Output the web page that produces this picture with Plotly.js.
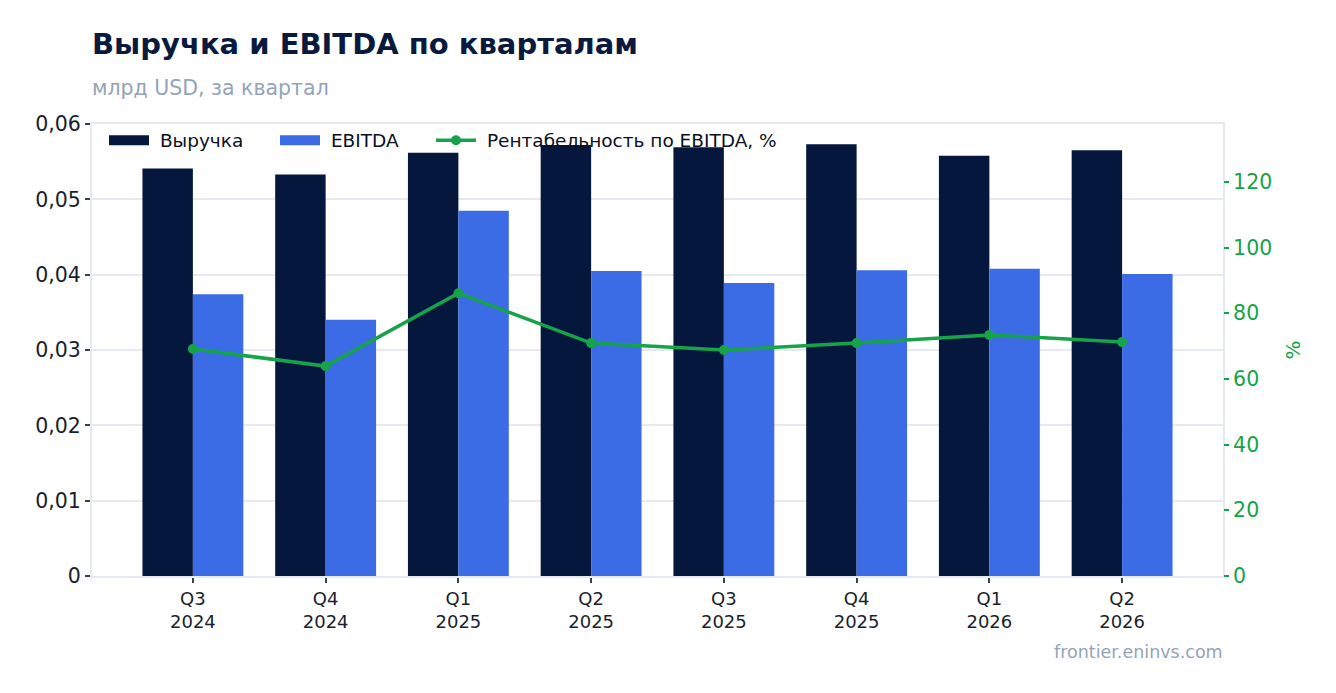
<!DOCTYPE html>
<html>
<head>
<meta charset="utf-8">
<script src="https://cdn.plot.ly/plotly-3.0.1.min.js"></script>
<style>
  html, body { margin: 0; padding: 0; background: #ffffff; }
  #chart { width: 1336px; height: 693px; }
</style>
</head>
<body>
<div id="chart"></div>
<script>
// кварталы
const quarters = ["Q3<br>2024", "Q4<br>2024", "Q1<br>2025", "Q2<br>2025",
                  "Q3<br>2025", "Q4<br>2025", "Q1<br>2026", "Q2<br>2026"];

// млрд USD
const revenue = [0.0541, 0.0533, 0.0562, 0.0572, 0.0569, 0.0573, 0.0558, 0.0565];
const ebitda  = [0.0374, 0.0340, 0.0485, 0.0405, 0.0389, 0.0406, 0.0408, 0.0401];

// рентабельность, %
const margin = [69.1, 63.9, 86.1, 70.9, 68.8, 70.9, 73.4, 71.2];

const navy = "#06173d";
const blue = "#3b6ce6";
const green = "#16a34a";
const gridc = "#e5e9f0";
const font = "DejaVu Sans, sans-serif";
const sp = "\u00a0";

const traces = [
  {
    type: "bar", name: "Выручка", x: quarters, y: revenue,
    marker: { color: navy }, hoverinfo: "skip", showlegend: false
  },
  {
    type: "bar", name: "EBITDA", x: quarters, y: ebitda,
    marker: { color: blue }, hoverinfo: "skip", showlegend: false
  },
  // только для легенды: широкие прямоугольники как в оригинале
  {
    type: "scatter", mode: "lines", name: sp + "Выручка", legendwidth: 116,
    x: [quarters[0]], y: [null], line: { color: navy, width: 13 }, hoverinfo: "skip"
  },
  {
    type: "scatter", mode: "lines", name: sp + "EBITDA", legendwidth: 101,
    x: [quarters[0]], y: [null], line: { color: blue, width: 13 }, hoverinfo: "skip"
  },
  {
    type: "scatter", mode: "lines+markers", name: sp + "Рентабельность по EBITDA, %",
    legendwidth: 320,
    x: quarters, y: margin, yaxis: "y2",
    line: { color: green, width: 3.5 },
    marker: { color: green, size: 10 }, hoverinfo: "skip"
  }
];

const layout = {
  width: 1336, height: 693,
  paper_bgcolor: "#ffffff", plot_bgcolor: "#ffffff",
  font: { family: font, color: "#1e2433" },
  separators: ",\u00a0",
  margin: { l: 92, r: 113, t: 124, b: 117 },
  barmode: "group", bargap: 0.24, bargroupgap: 0,
  showlegend: true,
  title: {
    text: "<b>Выручка и EBITDA по кварталам</b>",
    x: 92 / 1336, xanchor: "left", xref: "container",
    y: 1 - 44 / 693, yanchor: "middle", yref: "container",
    font: { family: font, size: 29, color: "#0a1a3f" }
  },
  legend: {
    orientation: "h", x: 12 / 1131, xanchor: "left", y: 1.005, yanchor: "top",
    bgcolor: "rgba(255,255,255,0)",
    font: { family: font, size: 18.5, color: "#0a0f1e" },
    itemwidth: 40
  },
  xaxis: {
    type: "category", range: [-0.76, 7.76],
    showgrid: false,
    showline: true, linecolor: gridc, linewidth: 2, mirror: true,
    ticks: "outside", ticklen: 5, tickwidth: 2, tickcolor: "#3a4050",
    tickfont: { family: font, size: 18, color: "#1a1f2e" }
  },
  yaxis: {
    range: [0, 0.06], dtick: 0.01, tickformat: ".2~f",
    showgrid: true, gridcolor: gridc, gridwidth: 2,
    zeroline: false,
    showline: true, linecolor: gridc, linewidth: 2, mirror: true,
    ticks: "outside", ticklen: 5, tickwidth: 2, tickcolor: "#3a4050",
    tickfont: { family: font, size: 20.5, color: "#1a1f2e" }
  },
  yaxis2: {
    overlaying: "y", side: "right",
    range: [0, 137.6], dtick: 20,
    showgrid: false, zeroline: false,
    ticks: "outside", ticklen: 5, tickwidth: 2, tickcolor: green,
    tickfont: { family: font, size: 20.5, color: green },
    title: { text: "%", font: { family: font, size: 20, color: green }, standoff: 14 }
  },
  annotations: [
    {
      text: "млрд USD, за квартал", showarrow: false,
      xref: "paper", x: 0, xanchor: "left", xshift: -2,
      yref: "paper", y: 1 + 36 / 452, yanchor: "middle",
      font: { family: font, size: 20.5, color: "#94a3b8" }
    },
    {
      text: "frontier.eninvs.com", showarrow: false,
      xref: "paper", x: 1, xanchor: "right", xshift: 2,
      yref: "paper", y: -76 / 452, yanchor: "middle",
      font: { family: font, size: 17.5, color: "#94a3b8" }
    }
  ]
};

Plotly.newPlot("chart", traces, layout, { displayModeBar: false, staticPlot: true });
</script>
</body>
</html>
